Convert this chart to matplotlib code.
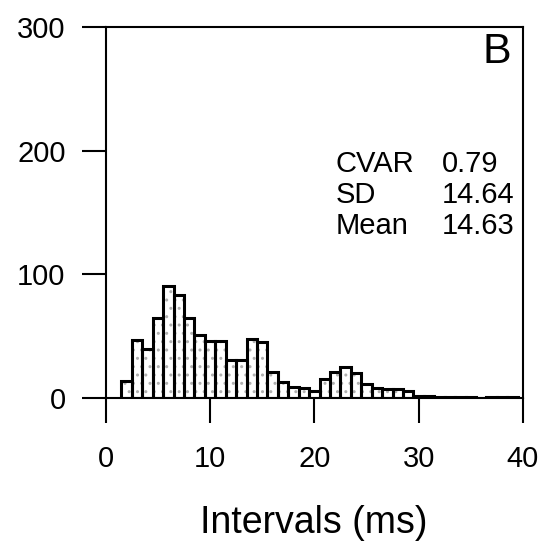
import numpy as np
import matplotlib
matplotlib.use("Agg")
import matplotlib.pyplot as plt

plt.rcParams["font.family"] = ["Liberation Sans", "DejaVu Sans"]

# histogram of intervals, 1 ms bins centred on whole ms
bin_centers = list(range(2, 40))
counts = [14, 47, 40, 65, 91, 83, 65, 51, 46, 46, 31, 31, 48, 45, 21, 13,
          9, 8, 6, 15, 21, 25, 20, 11, 8, 7, 7, 6, 2, 2, 1, 1, 1, 1, 0, 1, 1, 1]

stat_names = ["CVAR", "SD", "Mean"]
stat_values = ["0.79", "14.64", "14.63"]
panel_label = "B"

x_ticks = [0, 10, 20, 30, 40]
y_ticks = [0, 100, 200, 300]

fig = plt.figure(figsize=(5.51, 5.43), dpi=100)
ax = fig.add_axes([0.192, 0.267, 0.757, 0.683])

# stippled fill, then black outlines on top
ax.bar(bin_centers, counts, width=1.0, color="white", edgecolor="#b0b0b0",
       hatch="..", linewidth=0)
ax.bar(bin_centers, counts, width=1.0, fill=False, edgecolor="black",
       linewidth=2.2)

ax.set_xlim(0, 40)
ax.set_ylim(0, 300)
ax.set_xticks(x_ticks)
ax.set_yticks(y_ticks)
ax.tick_params(axis="both", direction="out", labelsize=21, width=1.5,
               color="black")
ax.tick_params(axis="x", length=18, pad=16)
ax.tick_params(axis="y", length=17, pad=12)
for s in ax.spines.values():
    s.set_linewidth(1.5)

ax.text(38.9, 271, panel_label, fontsize=31, ha="right", va="baseline")
y0 = 183
for i, (name, val) in enumerate(zip(stat_names, stat_values)):
    yy = y0 - i * 25
    ax.text(22.0, yy, name, fontsize=21, ha="left", va="baseline")
    ax.text(32.2, yy, val, fontsize=21, ha="left", va="baseline")

fig.text(314 / 551, 1 - 533 / 543, "Intervals (ms)", fontsize=27,
         ha="center", va="baseline")

fig.savefig("out.png", dpi=100)
